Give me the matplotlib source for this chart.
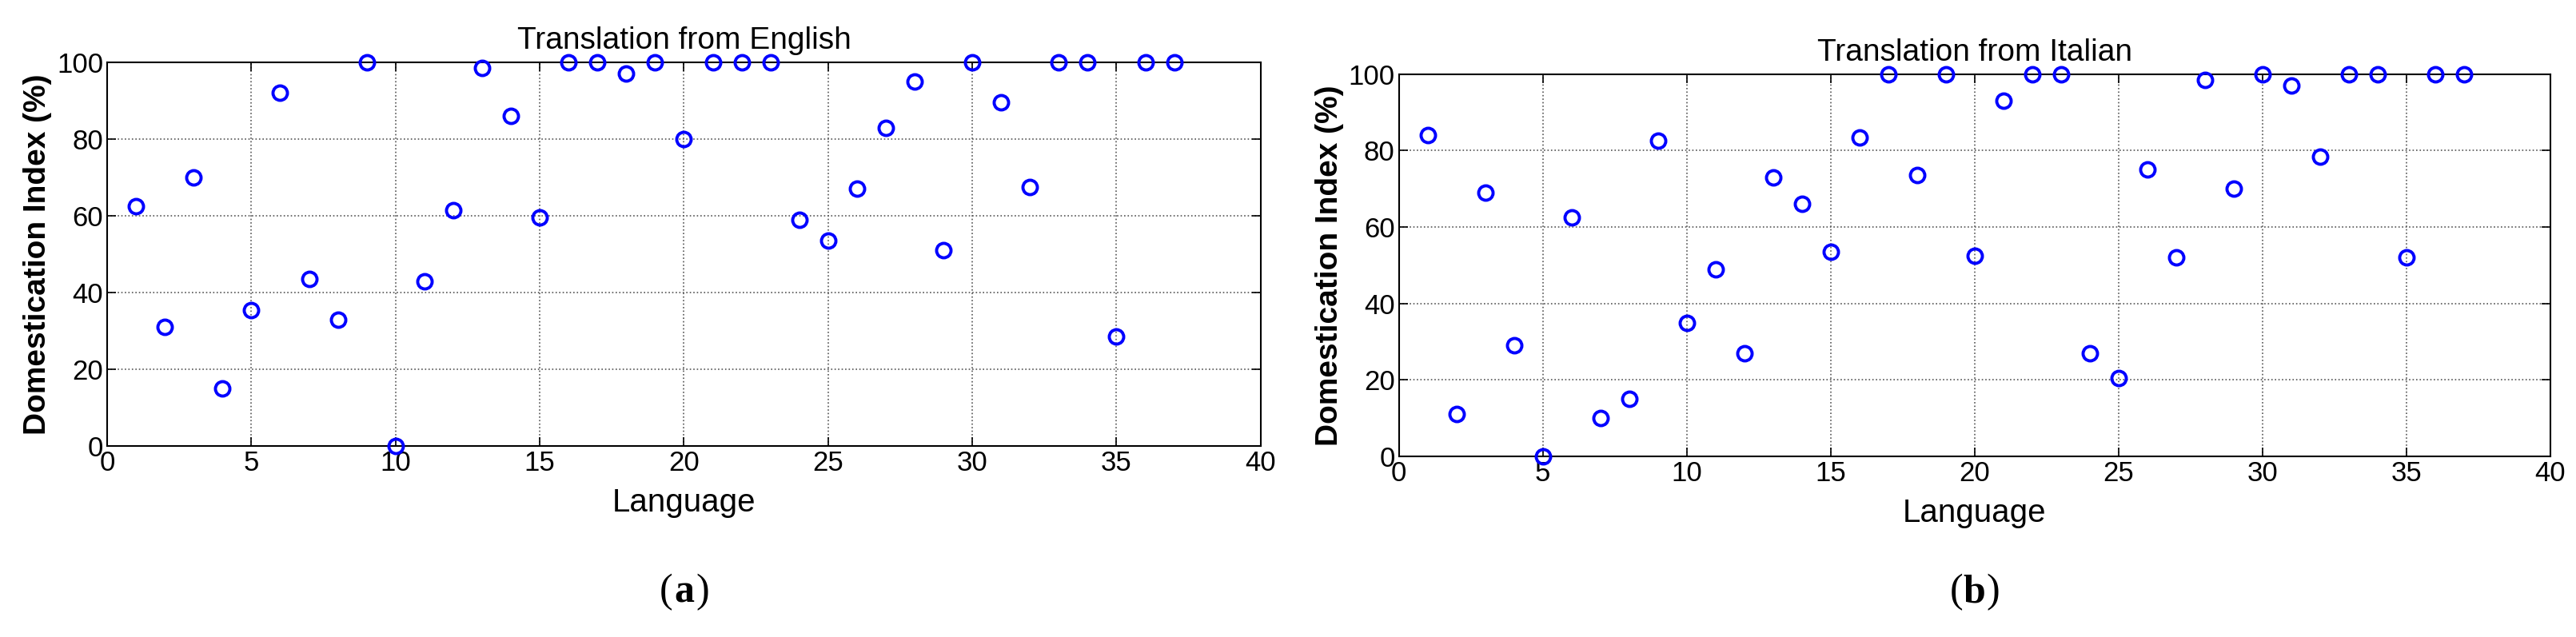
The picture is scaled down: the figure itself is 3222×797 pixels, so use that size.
import matplotlib
matplotlib.use("Agg")
import matplotlib.pyplot as plt
import numpy as np

languages = list(range(1, 38))
english = [62.5,31,70,15,35.5,92,43.5,33,100,0,43,61.5,98.5,86,59.5,100,100,97,100,80,
           100,100,100,59,53.5,67,83,95,51,100,89.5,67.5,100,100,28.5,100,100]
italian = [84,11,69,29,0,62.5,10,15,82.5,35,49,27,73,66,53.5,83.5,100,73.5,100,52.5,
           93,100,100,27,20.5,75,52,98.5,70,100,97,78.5,100,100,52,100,100]
titles = ["Translation from English", "Translation from Italian"]
captions = ["a", "b"]
xticks = [0,5,10,15,20,25,30,35,40]
yticks = [0,20,40,60,80,100]

fig = plt.figure(figsize=(32.22, 7.97), dpi=100)
rects = [[0.0416, 0.300, 0.4478, 0.602], [0.543, 0.2836, 0.447, 0.600]]
fam = ["Liberation Sans", "DejaVu Sans"]
for r, data, t, c in zip(rects, [english, italian], titles, captions):
    ax = fig.add_axes(r)
    ax.plot(languages, data, linestyle='none', marker='o', markersize=13,
            markerfacecolor='none', markeredgecolor='#0000ff', markeredgewidth=2.8, clip_on=False, zorder=5)
    ax.set_xlim(0, 40); ax.set_ylim(0, 100)
    ax.set_xticks(xticks); ax.set_yticks(yticks)
    ax.grid(True, linestyle=':', color='#555555', linewidth=1.2)
    ax.tick_params(direction='in', length=8, width=1.2, labelsize=25, top=True, right=True)
    for lab in ax.get_xticklabels() + ax.get_yticklabels():
        lab.set_family(fam)
    for s in ax.spines.values():
        s.set_linewidth(1.5)
    ax.set_title(t, fontsize=28, family=fam, pad=12)
    ax.set_xlabel("Language", fontsize=29, family=fam, labelpad=10)
    ax.set_ylabel("Domestication Index (%)", fontsize=28, weight='bold', family=fam, labelpad=4)
    x0 = r[0] + r[2] / 2
    fig.text(x0 - 0.0045, 0.055, "(", fontsize=36, family=["Liberation Serif"], ha='right', va='baseline')
    fig.text(x0, 0.055, c, fontsize=36, family=["Liberation Serif"], weight='bold', ha='center', va='baseline')
    fig.text(x0 + 0.0045, 0.055, ")", fontsize=36, family=["Liberation Serif"], ha='left', va='baseline')

fig.savefig("out.png", dpi=100)
